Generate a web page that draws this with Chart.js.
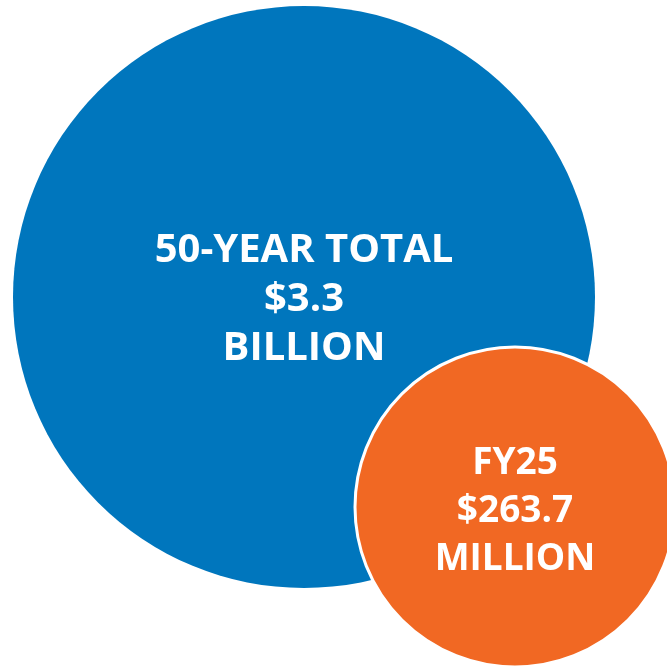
<!DOCTYPE html>
<html>
<head>
<meta charset="utf-8">
<script src="https://cdn.jsdelivr.net/npm/chart.js@4.4.1/dist/chart.umd.min.js"></script>
<style>
  html, body { margin: 0; padding: 0; background: #ffffff; overflow: hidden; }
  #wrap { width: 667px; height: 669px; position: relative; }
</style>
</head>
<body>
<div id="wrap"><canvas id="chart"></canvas></div>
<script>
// bubble data (x / y in axis units, r in px)
const categories = ['50-Year Total', 'FY25'];
const bubbleX = [30.4, 51.5];
const bubbleY = [37.2, 16.2];
const bubbleR = [291, 160];
const labelLines = [
    ['50-YEAR TOTAL', '$3.3', 'BILLION'],
    ['FY25', '$263.7', 'MILLION']
];
const colors = ['#0076BD', '#F16823'];

// label styling per bubble
const fontSizes = [40, 37];
const lineHeights = [49, 48];
const labelShift = [0, 2];

const bubbleLabels = {
    id: 'bubbleLabels',
    afterDatasetsDraw(chart) {
        const ctx = chart.ctx;
        ctx.save();
        ctx.fillStyle = '#ffffff';
        ctx.textAlign = 'center';
        ctx.textBaseline = 'alphabetic';
        chart.data.datasets.forEach((ds, i) => {
            const pt = chart.getDatasetMeta(i).data[0];
            if (!pt) return;
            const size = fontSizes[i];
            const lh = lineHeights[i];
            ctx.font = 'bold ' + size + 'px "Open Sans", "Noto Sans", sans-serif';
            const lines = labelLines[i];
            const top = pt.y + labelShift[i] - lh * (lines.length - 1) / 2;
            lines.forEach((line, j) => {
                ctx.fillText(line, pt.x, top + j * lh + size * 0.36);
            });
        });
        ctx.restore();
    }
};

new Chart(document.getElementById('chart'), {
    type: 'bubble',
    data: {
        datasets: categories.map((name, i) => ({
            label: name,
            data: [{ x: bubbleX[i], y: bubbleY[i], r: bubbleR[i] }],
            backgroundColor: colors[i],
            borderColor: '#ffffff',
            borderWidth: i === 0 ? 0 : 3,
            order: categories.length - i, // later bubble on top
            clip: false
        }))
    },
    options: {
        responsive: true,
        maintainAspectRatio: false,
        animation: false,
        events: [],
        layout: { padding: 0, autoPadding: false },
        plugins: {
            legend: { display: false },
            tooltip: { enabled: false }
        },
        scales: {
            x: { type: 'linear', min: 0, max: 66.7, display: false },
            y: { type: 'linear', min: 0, max: 66.9, display: false }
        }
    },
    plugins: [bubbleLabels]
});
</script>
</body>
</html>
